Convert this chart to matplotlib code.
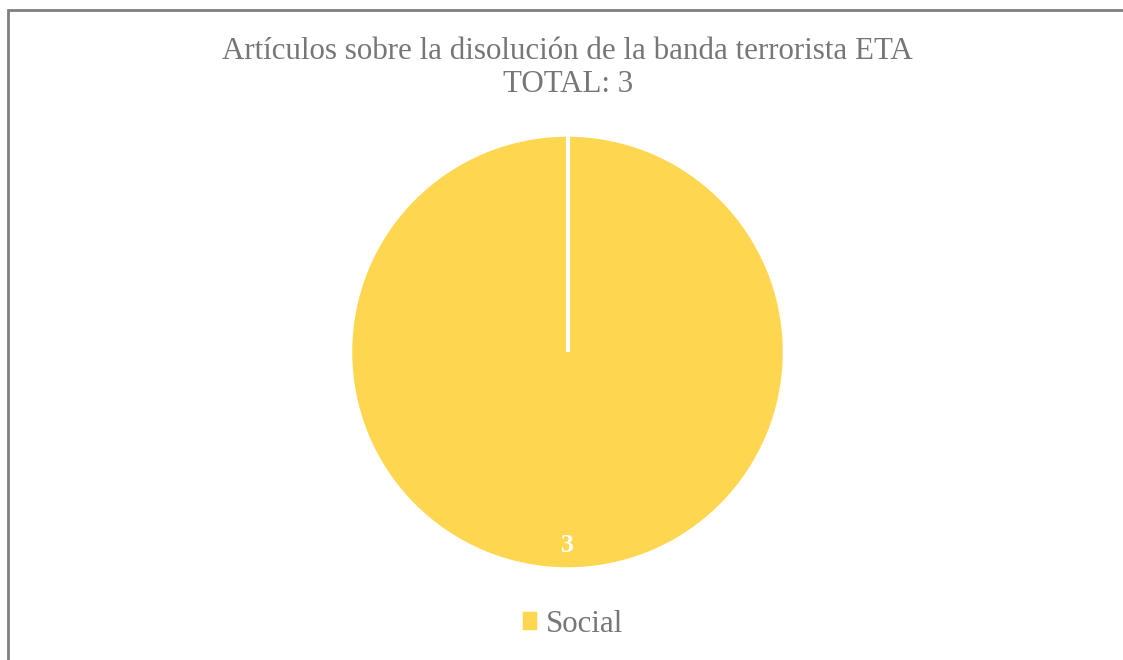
import numpy as np
import matplotlib.pyplot as plt
from matplotlib.patches import Rectangle

# Data
categories = ["Social"]
values = [3]
colors = ["#FED64F"]
title = "Artículos sobre la disolución de la banda terrorista ETA\nTOTAL: 3"

plt.rcParams['font.family'] = ['Liberation Serif', 'DejaVu Serif']

fig = plt.figure(figsize=(11.23, 6.6), dpi=100)

# outer chart border (cut off at right and bottom)
fig.patches.append(Rectangle((8 / 1123, -0.05), 1.2, 1 - 10 / 660 + 0.05,
                             transform=fig.transFigure, fill=False,
                             edgecolor="#7f7f7f", linewidth=2))

start = 90
ax = fig.add_axes([(567.5 - 217) / 1123, (308 - 217) / 660, 434 / 1123, 434 / 660])
wedges, texts = ax.pie(values, colors=colors, startangle=start, counterclock=False,
                       radius=1, labels=[str(v) for v in values], labeldistance=0.89,
                       wedgeprops=dict(edgecolor="white", linewidth=2.5))
# slice separator (single slice: pie does not draw its radial edge)
a = np.deg2rad(start)
ax.plot([0, np.cos(a)], [0, np.sin(a)], color="white", linewidth=3, solid_capstyle="butt")
for t in texts:
    t.set_color("white")
    t.set_fontweight("bold")
    t.set_fontsize(18.5)
    t.set_horizontalalignment("center")
    t.set_verticalalignment("center")
ax.set_xlim(-1, 1)
ax.set_ylim(-1, 1)
ax.set_aspect("equal")

fig.text(0.5055, 1 - 68 / 660, title, ha="center", va="center",
         fontsize=22.3, color="#767676", linespacing=1.2)

leg = fig.legend(wedges, categories, loc="center", bbox_to_anchor=(0.511, 1 - 624 / 660),
                 frameon=False, fontsize=22.3, handlelength=0.36, handleheight=0.36,
                 handletextpad=0.35)
for t in leg.get_texts():
    t.set_color("#767676")
for h in leg.legend_handles:
    h.set_edgecolor(colors[0])

fig.savefig("out.png", dpi=100)
